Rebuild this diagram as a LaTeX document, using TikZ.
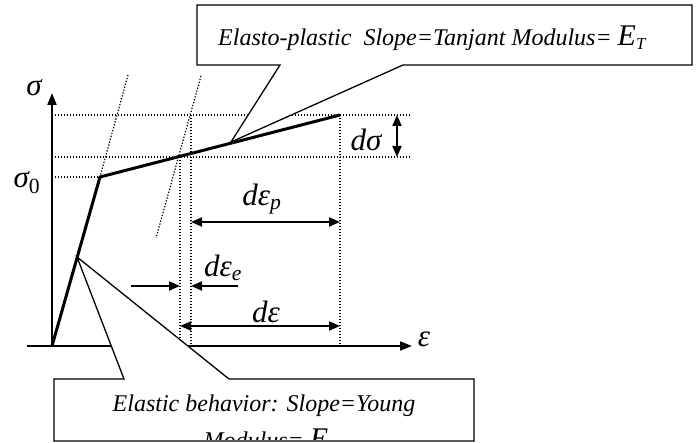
\documentclass[tikz,border=0pt]{standalone}
\usepackage{fontspec}
\setmainfont{Liberation Serif}
\usetikzlibrary{positioning,arrows.meta}
\newcommand{\symfont}{\fontsize{31}{34}\selectfont\itshape}
\newcommand{\boxfont}{\fontsize{24}{28}\selectfont\itshape}
\newcommand{\bigE}{{\fontsize{30}{32}\selectfont E}}

\begin{document}
\begin{tikzpicture}[x=1pt,y=-1pt,
  curve/.style={line width=3pt,line join=miter},
  axis/.style={line width=1.8pt,-{Triangle[length=12pt,width=9pt]}},
  guide/.style={line width=1.2pt,dash pattern=on 1.3pt off 1.7pt},
  dim/.style={line width=2pt,{Triangle[length=11pt,width=9pt]}-{Triangle[length=11pt,width=9pt]}},
  half/.style={line width=2pt,-{Triangle[length=11pt,width=9pt]}},
  callout/.style={line width=1.3pt,fill=white,line join=miter},
  boxtxt/.style={font=\boxfont,inner sep=0pt,anchor=base},
  sym/.style={font=\symfont,inner sep=0pt}]
\useasboundingbox (0,0) rectangle (699,443);
% key points of the curve
\coordinate (O) at (52,346);
\coordinate (Y) at (100,177);
\coordinate (P) at (340,115);
\coordinate (T) at (231,142);
\coordinate (B) at (77,257);
% guide lines
\draw[guide] (52,115) -- (410,115);
\draw[guide] (52,157) -- (410,157);
\draw[guide] (52,177) -- (Y);
\draw[guide] (180,157) -- (180,346);
\draw[guide] (191,115) -- (191,346);
\draw[guide] (P) -- (340,346);
\draw[guide] (128,75) -- (Y);
\draw[guide] (201,76) -- (156,238);
% axes
\draw[axis] (O) -- (52,93);
\draw[axis] (27,346) -- (412,346);
% stress-strain curve
\draw[curve] (O) -- (Y) -- (P);
% increments
\draw[dim] (191,222) -- (340,222);
\draw[dim] (180,326) -- (340,326);
\draw[dim] (397,115) -- (397,157);
\draw[half] (131,286) -- (180,286);
\draw[half] (238,286) -- (191,286);
% labels
\node[sym] (sig)  at (34,88)  {σ};
\node[sym] (sig0) at (27,183) {σ\textsubscript{\upshape 0}};
\node[sym] (dsig) at (366,140) {dσ};
\node[sym] (dep)  at (262,199) {dε\textsubscript{p}};
\node[sym] (dee)  at (223,268) {dε\textsubscript{e}};
\node[sym] (de)   at (266,312) {dε};
\node[sym] (eps)  at (424,339) {ε};
% callouts
\draw[callout] (280,65) -- (197,65) -- (197,5) -- (692,5) -- (692,65) -- (403,65) -- (T) -- cycle;
\node[boxtxt,anchor=base west] (ettxt) at (218,46) {Elasto-plastic\ \ Slope=Tanjant Modulus= \bigE\textsubscript{T}};
\draw[callout] (124,379) -- (54,379) -- (54,441) -- (474,441) -- (474,379) -- (229,379) -- (B) -- cycle;
\node[boxtxt] (eltxt) at (264,412) {Elastic behavior: Slope=Young};
\begin{scope}
  \clip (54,379) rectangle (474,440);
  \node[boxtxt] (eltxtb) at (266,449) {Modulus= \bigE};
\end{scope}
\end{tikzpicture}
\end{document}
